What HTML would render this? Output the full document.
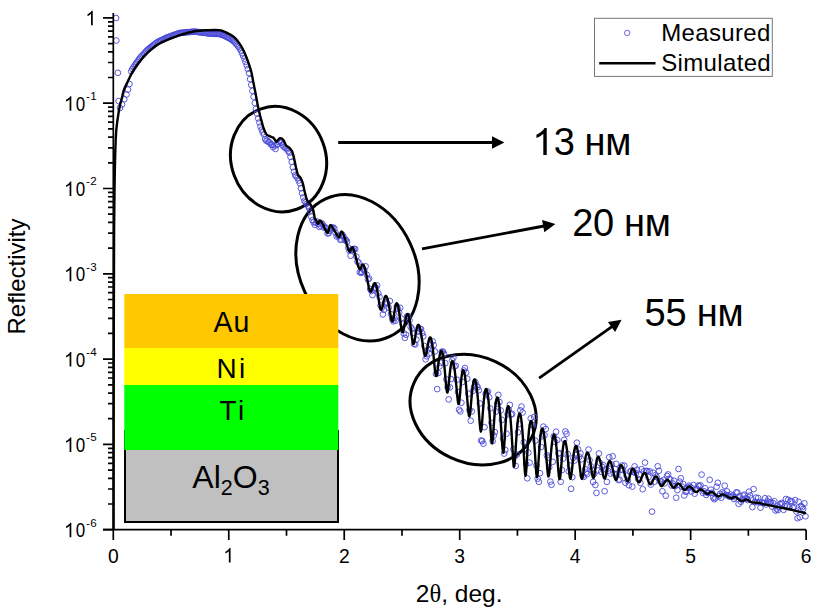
<!DOCTYPE html><html><head><meta charset="utf-8"><style>
html,body{margin:0;padding:0;background:#fff;}
svg{display:block;}
text{font-family:"Liberation Sans",sans-serif;fill:#000;}
</style></head><body>
<svg width="815" height="609" viewBox="0 0 815 609">

<g fill="none" stroke="#000" stroke-width="3">
<ellipse cx="278.55" cy="159.15" rx="47.3" ry="53.3" transform="rotate(-20 278.55 159.15)"/>
<ellipse cx="357.5" cy="267.75" rx="76.0" ry="58.0" transform="rotate(65.1 357.5 267.75)"/>
<ellipse cx="473.1" cy="409.6" rx="64.9" ry="53.0" transform="rotate(24.9 473.1 409.6)"/>
</g>
<g fill="none" stroke="#4848d8" stroke-width="0.9">
<circle cx="116.1" cy="18.0" r="2.85"/><circle cx="116.3" cy="40.5" r="2.85"/><circle cx="117.9" cy="72.8" r="2.85"/><circle cx="118.6" cy="101.0" r="2.85"/><circle cx="120.0" cy="108.0" r="2.85"/><circle cx="122.0" cy="104.5" r="2.85"/><circle cx="124.3" cy="99.2" r="2.85"/><circle cx="126.5" cy="94.5" r="2.85"/><circle cx="128.0" cy="89.5" r="2.85"/><circle cx="129.5" cy="84.0" r="2.85"/><circle cx="131.2" cy="71.3" r="2.85"/><circle cx="132.4" cy="69.0" r="2.85"/><circle cx="133.5" cy="67.1" r="2.85"/><circle cx="134.7" cy="65.5" r="2.85"/><circle cx="135.8" cy="63.8" r="2.85"/><circle cx="137.0" cy="62.2" r="2.85"/><circle cx="138.1" cy="60.5" r="2.85"/><circle cx="139.3" cy="58.9" r="2.85"/><circle cx="140.4" cy="57.5" r="2.85"/><circle cx="141.6" cy="56.2" r="2.85"/><circle cx="142.7" cy="55.0" r="2.85"/><circle cx="143.9" cy="53.7" r="2.85"/><circle cx="145.1" cy="52.5" r="2.85"/><circle cx="146.2" cy="51.2" r="2.85"/><circle cx="147.4" cy="49.9" r="2.85"/><circle cx="148.5" cy="49.0" r="2.85"/><circle cx="149.7" cy="48.1" r="2.85"/><circle cx="150.8" cy="47.2" r="2.85"/><circle cx="152.0" cy="46.3" r="2.85"/><circle cx="153.1" cy="45.4" r="2.85"/><circle cx="154.3" cy="44.5" r="2.85"/><circle cx="155.4" cy="43.6" r="2.85"/><circle cx="156.6" cy="42.7" r="2.85"/><circle cx="157.8" cy="41.9" r="2.85"/><circle cx="158.9" cy="41.3" r="2.85"/><circle cx="160.1" cy="40.8" r="2.85"/><circle cx="161.2" cy="40.2" r="2.85"/><circle cx="162.4" cy="39.7" r="2.85"/><circle cx="163.5" cy="39.2" r="2.85"/><circle cx="164.7" cy="38.6" r="2.85"/><circle cx="165.8" cy="38.1" r="2.85"/><circle cx="167.0" cy="37.5" r="2.85"/><circle cx="168.1" cy="37.1" r="2.85"/><circle cx="169.3" cy="36.7" r="2.85"/><circle cx="170.5" cy="36.3" r="2.85"/><circle cx="171.6" cy="35.8" r="2.85"/><circle cx="172.8" cy="35.4" r="2.85"/><circle cx="173.9" cy="35.0" r="2.85"/><circle cx="175.1" cy="34.6" r="2.85"/><circle cx="176.2" cy="34.2" r="2.85"/><circle cx="177.4" cy="33.8" r="2.85"/><circle cx="178.5" cy="33.4" r="2.85"/><circle cx="179.7" cy="33.0" r="2.85"/><circle cx="180.8" cy="32.9" r="2.85"/><circle cx="182.0" cy="32.8" r="2.85"/><circle cx="183.2" cy="32.7" r="2.85"/><circle cx="184.3" cy="32.5" r="2.85"/><circle cx="185.5" cy="32.4" r="2.85"/><circle cx="186.6" cy="32.3" r="2.85"/><circle cx="187.8" cy="32.2" r="2.85"/><circle cx="188.9" cy="32.1" r="2.85"/><circle cx="190.1" cy="32.0" r="2.85"/><circle cx="191.2" cy="31.9" r="2.85"/><circle cx="192.4" cy="31.8" r="2.85"/><circle cx="193.6" cy="31.7" r="2.85"/><circle cx="194.7" cy="31.6" r="2.85"/><circle cx="195.9" cy="31.8" r="2.85"/><circle cx="197.0" cy="31.9" r="2.85"/><circle cx="198.2" cy="32.1" r="2.85"/><circle cx="199.3" cy="32.2" r="2.85"/><circle cx="200.5" cy="32.4" r="2.85"/><circle cx="201.6" cy="32.5" r="2.85"/><circle cx="202.8" cy="32.6" r="2.85"/><circle cx="203.9" cy="32.8" r="2.85"/><circle cx="205.1" cy="32.9" r="2.85"/><circle cx="206.3" cy="33.1" r="2.85"/><circle cx="207.4" cy="33.2" r="2.85"/><circle cx="208.6" cy="33.4" r="2.85"/><circle cx="209.7" cy="33.6" r="2.85"/><circle cx="210.9" cy="33.7" r="2.85"/><circle cx="212.0" cy="33.7" r="2.85"/><circle cx="213.2" cy="33.8" r="2.85"/><circle cx="214.3" cy="33.8" r="2.85"/><circle cx="215.5" cy="33.8" r="2.85"/><circle cx="216.6" cy="33.8" r="2.85"/><circle cx="217.8" cy="33.9" r="2.85"/><circle cx="219.0" cy="33.9" r="2.85"/><circle cx="220.1" cy="34.2" r="2.85"/><circle cx="221.3" cy="34.6" r="2.85"/><circle cx="222.4" cy="34.9" r="2.85"/><circle cx="223.6" cy="35.4" r="2.85"/><circle cx="224.7" cy="35.9" r="2.85"/><circle cx="225.9" cy="36.5" r="2.85"/><circle cx="227.0" cy="37.1" r="2.85"/><circle cx="228.2" cy="37.7" r="2.85"/><circle cx="229.3" cy="38.2" r="2.85"/><circle cx="230.5" cy="39.0" r="2.85"/><circle cx="231.7" cy="39.8" r="2.85"/><circle cx="232.8" cy="40.6" r="2.85"/><circle cx="234.0" cy="41.5" r="2.85"/><circle cx="235.1" cy="42.5" r="2.85"/><circle cx="236.3" cy="44.0" r="2.85"/><circle cx="237.4" cy="45.4" r="2.85"/><circle cx="238.6" cy="46.8" r="2.85"/><circle cx="239.7" cy="48.3" r="2.85"/><circle cx="240.9" cy="50.5" r="2.85"/><circle cx="242.0" cy="53.1" r="2.85"/><circle cx="243.2" cy="55.8" r="2.85"/><circle cx="244.4" cy="58.7" r="2.85"/><circle cx="245.5" cy="61.9" r="2.85"/><circle cx="246.7" cy="65.2" r="2.85"/><circle cx="247.8" cy="69.0" r="2.85"/><circle cx="249.0" cy="73.1" r="2.85"/><circle cx="250.1" cy="79.1" r="2.85"/><circle cx="251.3" cy="85.0" r="2.85"/><circle cx="252.4" cy="90.8" r="2.85"/><circle cx="253.6" cy="96.8" r="2.85"/><circle cx="254.8" cy="103.0" r="2.85"/><circle cx="255.9" cy="109.0" r="2.85"/><circle cx="257.1" cy="113.7" r="2.85"/><circle cx="258.2" cy="118.4" r="2.85"/><circle cx="259.4" cy="122.5" r="2.85"/><circle cx="260.5" cy="126.5" r="2.85"/><circle cx="261.7" cy="129.7" r="2.85"/><circle cx="262.8" cy="132.4" r="2.85"/><circle cx="264.0" cy="134.5" r="2.85"/><circle cx="265.1" cy="139.1" r="2.85"/><circle cx="266.3" cy="140.8" r="2.85"/><circle cx="267.5" cy="140.6" r="2.85"/><circle cx="268.6" cy="142.1" r="2.85"/><circle cx="269.8" cy="142.5" r="2.85"/><circle cx="270.9" cy="144.4" r="2.85"/><circle cx="272.1" cy="144.8" r="2.85"/><circle cx="273.2" cy="147.2" r="2.85"/><circle cx="274.4" cy="145.4" r="2.85"/><circle cx="275.5" cy="149.0" r="2.85"/><circle cx="276.7" cy="145.1" r="2.85"/><circle cx="277.8" cy="144.0" r="2.85"/><circle cx="279.0" cy="142.0" r="2.85"/><circle cx="280.2" cy="140.9" r="2.85"/><circle cx="281.3" cy="142.7" r="2.85"/><circle cx="282.5" cy="144.9" r="2.85"/><circle cx="283.6" cy="146.7" r="2.85"/><circle cx="284.8" cy="147.5" r="2.85"/><circle cx="285.9" cy="148.2" r="2.85"/><circle cx="287.1" cy="149.3" r="2.85"/><circle cx="288.2" cy="151.0" r="2.85"/><circle cx="289.4" cy="152.8" r="2.85"/><circle cx="290.5" cy="156.9" r="2.85"/><circle cx="291.7" cy="161.8" r="2.85"/><circle cx="292.9" cy="167.2" r="2.85"/><circle cx="294.0" cy="171.7" r="2.85"/><circle cx="295.2" cy="175.1" r="2.85"/><circle cx="296.3" cy="176.5" r="2.85"/><circle cx="297.5" cy="177.9" r="2.85"/><circle cx="298.6" cy="180.5" r="2.85"/><circle cx="299.8" cy="183.3" r="2.85"/><circle cx="300.9" cy="188.3" r="2.85"/><circle cx="302.1" cy="193.2" r="2.85"/><circle cx="303.2" cy="197.4" r="2.85"/><circle cx="304.4" cy="200.8" r="2.85"/><circle cx="305.6" cy="202.3" r="2.85"/><circle cx="306.7" cy="203.8" r="2.85"/><circle cx="307.9" cy="205.6" r="2.85"/><circle cx="309.0" cy="208.0" r="2.85"/><circle cx="310.2" cy="210.8" r="2.85"/><circle cx="311.3" cy="216.7" r="2.85"/><circle cx="312.5" cy="220.0" r="2.85"/><circle cx="313.6" cy="222.2" r="2.85"/><circle cx="314.8" cy="224.7" r="2.85"/><circle cx="315.9" cy="222.8" r="2.85"/><circle cx="317.1" cy="221.5" r="2.85"/><circle cx="318.3" cy="223.9" r="2.85"/><circle cx="319.4" cy="226.9" r="2.85"/><circle cx="320.6" cy="225.8" r="2.85"/><circle cx="321.7" cy="223.4" r="2.85"/><circle cx="322.9" cy="224.5" r="2.85"/><circle cx="324.0" cy="227.7" r="2.85"/><circle cx="325.2" cy="227.2" r="2.85"/><circle cx="326.3" cy="228.2" r="2.85"/><circle cx="327.5" cy="233.4" r="2.85"/><circle cx="328.7" cy="233.2" r="2.85"/><circle cx="329.8" cy="230.6" r="2.85"/><circle cx="331.0" cy="228.5" r="2.85"/><circle cx="332.1" cy="227.7" r="2.85"/><circle cx="333.3" cy="227.5" r="2.85"/><circle cx="334.4" cy="228.5" r="2.85"/><circle cx="335.6" cy="232.8" r="2.85"/><circle cx="336.7" cy="236.5" r="2.85"/><circle cx="337.9" cy="235.6" r="2.85"/><circle cx="339.0" cy="236.2" r="2.85"/><circle cx="340.2" cy="239.7" r="2.85"/><circle cx="341.4" cy="239.6" r="2.85"/><circle cx="342.5" cy="234.6" r="2.85"/><circle cx="343.7" cy="236.9" r="2.85"/><circle cx="344.8" cy="240.3" r="2.85"/><circle cx="346.0" cy="239.8" r="2.85"/><circle cx="347.1" cy="241.6" r="2.85"/><circle cx="348.3" cy="247.6" r="2.85"/><circle cx="349.4" cy="250.6" r="2.85"/><circle cx="350.6" cy="255.8" r="2.85"/><circle cx="351.7" cy="250.2" r="2.85"/><circle cx="352.9" cy="249.5" r="2.85"/><circle cx="354.1" cy="248.8" r="2.85"/><circle cx="355.2" cy="249.1" r="2.85"/><circle cx="356.4" cy="256.6" r="2.85"/><circle cx="357.5" cy="261.7" r="2.85"/><circle cx="358.7" cy="262.5" r="2.85"/><circle cx="359.8" cy="272.2" r="2.85"/><circle cx="361.0" cy="272.9" r="2.85"/><circle cx="362.1" cy="272.1" r="2.85"/><circle cx="363.3" cy="269.6" r="2.85"/><circle cx="364.4" cy="270.6" r="2.85"/><circle cx="365.6" cy="266.3" r="2.85"/><circle cx="366.8" cy="274.8" r="2.85"/><circle cx="367.9" cy="279.4" r="2.85"/><circle cx="369.1" cy="278.5" r="2.85"/><circle cx="370.2" cy="289.0" r="2.85"/><circle cx="371.4" cy="291.0" r="2.85"/><circle cx="372.5" cy="295.1" r="2.85"/><circle cx="373.7" cy="289.4" r="2.85"/><circle cx="374.8" cy="287.8" r="2.85"/><circle cx="376.0" cy="287.7" r="2.85"/><circle cx="377.1" cy="285.4" r="2.85"/><circle cx="378.3" cy="293.2" r="2.85"/><circle cx="379.5" cy="296.7" r="2.85"/><circle cx="380.6" cy="305.5" r="2.85"/><circle cx="381.8" cy="307.7" r="2.85"/><circle cx="382.9" cy="314.4" r="2.85"/><circle cx="384.1" cy="309.8" r="2.85"/><circle cx="385.2" cy="302.8" r="2.85"/><circle cx="386.4" cy="302.4" r="2.85"/><circle cx="387.5" cy="303.9" r="2.85"/><circle cx="388.7" cy="307.7" r="2.85"/><circle cx="389.9" cy="301.0" r="2.85"/><circle cx="391.0" cy="314.2" r="2.85"/><circle cx="392.2" cy="318.9" r="2.85"/><circle cx="393.3" cy="321.3" r="2.85"/><circle cx="394.5" cy="318.3" r="2.85"/><circle cx="395.6" cy="320.7" r="2.85"/><circle cx="396.8" cy="306.4" r="2.85"/><circle cx="397.9" cy="308.9" r="2.85"/><circle cx="399.1" cy="312.6" r="2.85"/><circle cx="400.2" cy="307.8" r="2.85"/><circle cx="401.4" cy="318.6" r="2.85"/><circle cx="402.6" cy="323.6" r="2.85"/><circle cx="403.7" cy="333.4" r="2.85"/><circle cx="404.9" cy="337.8" r="2.85"/><circle cx="406.0" cy="334.7" r="2.85"/><circle cx="407.2" cy="316.1" r="2.85"/><circle cx="408.3" cy="316.2" r="2.85"/><circle cx="409.5" cy="320.3" r="2.85"/><circle cx="410.6" cy="326.8" r="2.85"/><circle cx="411.8" cy="328.7" r="2.85"/><circle cx="412.9" cy="333.1" r="2.85"/><circle cx="414.1" cy="343.8" r="2.85"/><circle cx="415.3" cy="344.5" r="2.85"/><circle cx="416.4" cy="339.7" r="2.85"/><circle cx="417.6" cy="331.7" r="2.85"/><circle cx="418.7" cy="330.7" r="2.85"/><circle cx="419.9" cy="328.8" r="2.85"/><circle cx="421.0" cy="329.1" r="2.85"/><circle cx="422.2" cy="333.2" r="2.85"/><circle cx="423.3" cy="336.3" r="2.85"/><circle cx="424.5" cy="346.1" r="2.85"/><circle cx="425.6" cy="359.3" r="2.85"/><circle cx="426.8" cy="356.3" r="2.85"/><circle cx="428.0" cy="349.6" r="2.85"/><circle cx="429.1" cy="353.7" r="2.85"/><circle cx="430.3" cy="344.6" r="2.85"/><circle cx="431.4" cy="348.4" r="2.85"/><circle cx="432.6" cy="341.3" r="2.85"/><circle cx="433.7" cy="345.1" r="2.85"/><circle cx="434.9" cy="351.4" r="2.85"/><circle cx="436.0" cy="373.9" r="2.85"/><circle cx="437.2" cy="389.1" r="2.85"/><circle cx="438.3" cy="373.0" r="2.85"/><circle cx="439.5" cy="366.4" r="2.85"/><circle cx="440.7" cy="362.8" r="2.85"/><circle cx="441.8" cy="351.7" r="2.85"/><circle cx="443.0" cy="351.6" r="2.85"/><circle cx="444.1" cy="353.9" r="2.85"/><circle cx="445.3" cy="363.2" r="2.85"/><circle cx="446.4" cy="379.4" r="2.85"/><circle cx="447.6" cy="387.2" r="2.85"/><circle cx="448.7" cy="399.4" r="2.85"/><circle cx="449.9" cy="387.3" r="2.85"/><circle cx="451.0" cy="379.1" r="2.85"/><circle cx="452.2" cy="360.3" r="2.85"/><circle cx="453.4" cy="357.8" r="2.85"/><circle cx="454.5" cy="366.5" r="2.85"/><circle cx="455.7" cy="365.8" r="2.85"/><circle cx="456.8" cy="379.7" r="2.85"/><circle cx="458.0" cy="392.1" r="2.85"/><circle cx="459.1" cy="409.7" r="2.85"/><circle cx="460.3" cy="411.4" r="2.85"/><circle cx="461.4" cy="402.7" r="2.85"/><circle cx="462.6" cy="382.0" r="2.85"/><circle cx="463.8" cy="370.5" r="2.85"/><circle cx="464.9" cy="368.0" r="2.85"/><circle cx="466.1" cy="372.6" r="2.85"/><circle cx="467.2" cy="378.7" r="2.85"/><circle cx="468.4" cy="393.7" r="2.85"/><circle cx="469.5" cy="410.0" r="2.85"/><circle cx="470.7" cy="420.7" r="2.85"/><circle cx="471.8" cy="411.4" r="2.85"/><circle cx="473.0" cy="390.9" r="2.85"/><circle cx="474.1" cy="387.2" r="2.85"/><circle cx="475.3" cy="382.0" r="2.85"/><circle cx="476.5" cy="385.5" r="2.85"/><circle cx="477.6" cy="387.1" r="2.85"/><circle cx="478.8" cy="390.3" r="2.85"/><circle cx="479.9" cy="403.5" r="2.85"/><circle cx="481.1" cy="440.5" r="2.85"/><circle cx="482.2" cy="441.0" r="2.85"/><circle cx="483.4" cy="443.7" r="2.85"/><circle cx="484.5" cy="427.2" r="2.85"/><circle cx="485.7" cy="394.0" r="2.85"/><circle cx="486.8" cy="392.3" r="2.85"/><circle cx="488.0" cy="391.6" r="2.85"/><circle cx="489.2" cy="397.3" r="2.85"/><circle cx="490.3" cy="408.4" r="2.85"/><circle cx="491.5" cy="422.9" r="2.85"/><circle cx="492.6" cy="441.1" r="2.85"/><circle cx="493.8" cy="435.5" r="2.85"/><circle cx="494.9" cy="432.1" r="2.85"/><circle cx="496.1" cy="411.6" r="2.85"/><circle cx="497.2" cy="403.8" r="2.85"/><circle cx="498.4" cy="394.9" r="2.85"/><circle cx="499.5" cy="402.0" r="2.85"/><circle cx="500.7" cy="410.5" r="2.85"/><circle cx="501.9" cy="419.8" r="2.85"/><circle cx="503.0" cy="438.6" r="2.85"/><circle cx="504.2" cy="453.6" r="2.85"/><circle cx="505.3" cy="450.0" r="2.85"/><circle cx="506.5" cy="433.7" r="2.85"/><circle cx="507.6" cy="414.3" r="2.85"/><circle cx="508.8" cy="409.9" r="2.85"/><circle cx="509.9" cy="404.9" r="2.85"/><circle cx="511.1" cy="414.5" r="2.85"/><circle cx="512.2" cy="414.0" r="2.85"/><circle cx="513.4" cy="449.3" r="2.85"/><circle cx="514.6" cy="456.4" r="2.85"/><circle cx="515.7" cy="465.9" r="2.85"/><circle cx="516.9" cy="454.6" r="2.85"/><circle cx="518.0" cy="432.3" r="2.85"/><circle cx="519.2" cy="424.1" r="2.85"/><circle cx="520.3" cy="410.3" r="2.85"/><circle cx="521.5" cy="406.5" r="2.85"/><circle cx="522.6" cy="412.5" r="2.85"/><circle cx="523.8" cy="442.4" r="2.85"/><circle cx="525.0" cy="448.6" r="2.85"/><circle cx="526.1" cy="464.1" r="2.85"/><circle cx="527.3" cy="478.3" r="2.85"/><circle cx="528.4" cy="452.7" r="2.85"/><circle cx="529.6" cy="462.6" r="2.85"/><circle cx="530.7" cy="418.4" r="2.85"/><circle cx="531.9" cy="424.9" r="2.85"/><circle cx="533.0" cy="425.1" r="2.85"/><circle cx="534.2" cy="417.0" r="2.85"/><circle cx="535.3" cy="440.6" r="2.85"/><circle cx="536.5" cy="465.5" r="2.85"/><circle cx="537.7" cy="478.7" r="2.85"/><circle cx="538.8" cy="481.8" r="2.85"/><circle cx="540.0" cy="473.2" r="2.85"/><circle cx="541.1" cy="447.0" r="2.85"/><circle cx="542.3" cy="436.2" r="2.85"/><circle cx="543.4" cy="426.6" r="2.85"/><circle cx="544.6" cy="435.2" r="2.85"/><circle cx="545.7" cy="429.0" r="2.85"/><circle cx="546.9" cy="455.3" r="2.85"/><circle cx="548.0" cy="457.6" r="2.85"/><circle cx="549.2" cy="467.3" r="2.85"/><circle cx="550.4" cy="481.6" r="2.85"/><circle cx="551.5" cy="484.8" r="2.85"/><circle cx="552.7" cy="461.8" r="2.85"/><circle cx="553.8" cy="436.3" r="2.85"/><circle cx="555.0" cy="441.9" r="2.85"/><circle cx="556.1" cy="431.7" r="2.85"/><circle cx="557.3" cy="440.0" r="2.85"/><circle cx="558.4" cy="453.6" r="2.85"/><circle cx="559.6" cy="453.1" r="2.85"/><circle cx="560.7" cy="481.8" r="2.85"/><circle cx="561.9" cy="470.1" r="2.85"/><circle cx="563.1" cy="458.6" r="2.85"/><circle cx="564.2" cy="439.8" r="2.85"/><circle cx="565.4" cy="431.4" r="2.85"/><circle cx="566.5" cy="433.8" r="2.85"/><circle cx="567.7" cy="453.9" r="2.85"/><circle cx="568.8" cy="471.3" r="2.85"/><circle cx="570.0" cy="465.5" r="2.85"/><circle cx="571.1" cy="488.8" r="2.85"/><circle cx="572.3" cy="477.1" r="2.85"/><circle cx="573.4" cy="457.9" r="2.85"/><circle cx="574.6" cy="460.5" r="2.85"/><circle cx="575.8" cy="455.1" r="2.85"/><circle cx="576.9" cy="442.7" r="2.85"/><circle cx="578.1" cy="449.4" r="2.85"/><circle cx="579.2" cy="456.8" r="2.85"/><circle cx="580.4" cy="453.4" r="2.85"/><circle cx="581.5" cy="459.3" r="2.85"/><circle cx="582.7" cy="475.7" r="2.85"/><circle cx="583.8" cy="476.9" r="2.85"/><circle cx="585.0" cy="469.4" r="2.85"/><circle cx="586.1" cy="472.6" r="2.85"/><circle cx="587.3" cy="474.1" r="2.85"/><circle cx="588.5" cy="449.6" r="2.85"/><circle cx="589.6" cy="460.3" r="2.85"/><circle cx="590.8" cy="466.3" r="2.85"/><circle cx="591.9" cy="469.8" r="2.85"/><circle cx="593.1" cy="481.9" r="2.85"/><circle cx="594.2" cy="473.8" r="2.85"/><circle cx="595.4" cy="485.0" r="2.85"/><circle cx="596.5" cy="492.9" r="2.85"/><circle cx="597.7" cy="470.4" r="2.85"/><circle cx="598.9" cy="453.5" r="2.85"/><circle cx="600.0" cy="462.9" r="2.85"/><circle cx="601.2" cy="471.9" r="2.85"/><circle cx="602.3" cy="467.0" r="2.85"/><circle cx="603.5" cy="465.2" r="2.85"/><circle cx="604.6" cy="491.2" r="2.85"/><circle cx="605.8" cy="469.3" r="2.85"/><circle cx="606.9" cy="481.9" r="2.85"/><circle cx="608.1" cy="470.9" r="2.85"/><circle cx="609.2" cy="457.2" r="2.85"/><circle cx="610.4" cy="473.5" r="2.85"/><circle cx="611.6" cy="464.4" r="2.85"/><circle cx="612.7" cy="456.3" r="2.85"/><circle cx="613.9" cy="473.6" r="2.85"/><circle cx="615.0" cy="468.9" r="2.85"/><circle cx="616.2" cy="463.8" r="2.85"/><circle cx="617.3" cy="474.1" r="2.85"/><circle cx="618.5" cy="480.1" r="2.85"/><circle cx="619.6" cy="479.6" r="2.85"/><circle cx="620.8" cy="469.6" r="2.85"/><circle cx="621.9" cy="465.5" r="2.85"/><circle cx="623.1" cy="470.1" r="2.85"/><circle cx="624.3" cy="465.6" r="2.85"/><circle cx="625.4" cy="482.8" r="2.85"/><circle cx="626.6" cy="475.7" r="2.85"/><circle cx="627.7" cy="480.7" r="2.85"/><circle cx="628.9" cy="485.2" r="2.85"/><circle cx="630.0" cy="471.8" r="2.85"/><circle cx="631.2" cy="470.7" r="2.85"/><circle cx="632.3" cy="486.6" r="2.85"/><circle cx="633.5" cy="472.0" r="2.85"/><circle cx="634.6" cy="466.4" r="2.85"/><circle cx="635.8" cy="473.1" r="2.85"/><circle cx="637.0" cy="469.6" r="2.85"/><circle cx="638.1" cy="478.9" r="2.85"/><circle cx="639.3" cy="474.9" r="2.85"/><circle cx="640.4" cy="482.9" r="2.85"/><circle cx="641.6" cy="469.2" r="2.85"/><circle cx="642.7" cy="489.2" r="2.85"/><circle cx="643.9" cy="471.3" r="2.85"/><circle cx="645.0" cy="462.6" r="2.85"/><circle cx="646.2" cy="470.9" r="2.85"/><circle cx="647.3" cy="471.0" r="2.85"/><circle cx="648.5" cy="477.1" r="2.85"/><circle cx="649.7" cy="471.4" r="2.85"/><circle cx="650.8" cy="484.6" r="2.85"/><circle cx="652.0" cy="511.6" r="2.85"/><circle cx="653.1" cy="472.7" r="2.85"/><circle cx="654.3" cy="481.8" r="2.85"/><circle cx="655.4" cy="475.2" r="2.85"/><circle cx="656.6" cy="477.0" r="2.85"/><circle cx="657.7" cy="466.3" r="2.85"/><circle cx="658.9" cy="470.8" r="2.85"/><circle cx="660.1" cy="481.3" r="2.85"/><circle cx="661.2" cy="481.3" r="2.85"/><circle cx="662.4" cy="491.2" r="2.85"/><circle cx="663.5" cy="479.9" r="2.85"/><circle cx="664.7" cy="483.4" r="2.85"/><circle cx="665.8" cy="495.7" r="2.85"/><circle cx="667.0" cy="475.9" r="2.85"/><circle cx="668.1" cy="474.4" r="2.85"/><circle cx="669.3" cy="478.8" r="2.85"/><circle cx="670.4" cy="479.6" r="2.85"/><circle cx="671.6" cy="485.5" r="2.85"/><circle cx="672.8" cy="483.6" r="2.85"/><circle cx="673.9" cy="480.7" r="2.85"/><circle cx="675.1" cy="486.1" r="2.85"/><circle cx="676.2" cy="497.7" r="2.85"/><circle cx="677.4" cy="490.1" r="2.85"/><circle cx="678.5" cy="469.0" r="2.85"/><circle cx="679.7" cy="481.6" r="2.85"/><circle cx="680.8" cy="478.3" r="2.85"/><circle cx="682.0" cy="486.7" r="2.85"/><circle cx="683.1" cy="484.0" r="2.85"/><circle cx="684.3" cy="495.5" r="2.85"/><circle cx="685.5" cy="491.6" r="2.85"/><circle cx="686.6" cy="491.6" r="2.85"/><circle cx="687.8" cy="487.7" r="2.85"/><circle cx="688.9" cy="485.6" r="2.85"/><circle cx="690.1" cy="486.8" r="2.85"/><circle cx="691.2" cy="491.5" r="2.85"/><circle cx="692.4" cy="488.4" r="2.85"/><circle cx="693.5" cy="485.0" r="2.85"/><circle cx="694.7" cy="493.7" r="2.85"/><circle cx="695.8" cy="489.5" r="2.85"/><circle cx="697.0" cy="488.9" r="2.85"/><circle cx="698.2" cy="485.6" r="2.85"/><circle cx="699.3" cy="486.3" r="2.85"/><circle cx="700.5" cy="485.2" r="2.85"/><circle cx="701.6" cy="474.6" r="2.85"/><circle cx="702.8" cy="492.8" r="2.85"/><circle cx="703.9" cy="491.2" r="2.85"/><circle cx="705.1" cy="488.3" r="2.85"/><circle cx="706.2" cy="494.9" r="2.85"/><circle cx="707.4" cy="492.8" r="2.85"/><circle cx="708.5" cy="493.0" r="2.85"/><circle cx="709.7" cy="479.8" r="2.85"/><circle cx="710.9" cy="489.7" r="2.85"/><circle cx="712.0" cy="492.7" r="2.85"/><circle cx="713.2" cy="497.7" r="2.85"/><circle cx="714.3" cy="499.2" r="2.85"/><circle cx="715.5" cy="497.9" r="2.85"/><circle cx="716.6" cy="486.7" r="2.85"/><circle cx="717.8" cy="482.8" r="2.85"/><circle cx="718.9" cy="496.1" r="2.85"/><circle cx="720.1" cy="493.8" r="2.85"/><circle cx="721.2" cy="497.8" r="2.85"/><circle cx="722.4" cy="492.2" r="2.85"/><circle cx="723.6" cy="493.5" r="2.85"/><circle cx="724.7" cy="485.7" r="2.85"/><circle cx="725.9" cy="495.0" r="2.85"/><circle cx="727.0" cy="491.4" r="2.85"/><circle cx="728.2" cy="495.6" r="2.85"/><circle cx="729.3" cy="496.6" r="2.85"/><circle cx="730.5" cy="494.4" r="2.85"/><circle cx="731.6" cy="496.8" r="2.85"/><circle cx="732.8" cy="495.6" r="2.85"/><circle cx="734.0" cy="499.0" r="2.85"/><circle cx="735.1" cy="497.3" r="2.85"/><circle cx="736.3" cy="492.4" r="2.85"/><circle cx="737.4" cy="492.6" r="2.85"/><circle cx="738.6" cy="503.9" r="2.85"/><circle cx="739.7" cy="496.0" r="2.85"/><circle cx="740.9" cy="501.7" r="2.85"/><circle cx="742.0" cy="499.5" r="2.85"/><circle cx="743.2" cy="495.5" r="2.85"/><circle cx="744.3" cy="494.7" r="2.85"/><circle cx="745.5" cy="498.4" r="2.85"/><circle cx="746.7" cy="498.6" r="2.85"/><circle cx="747.8" cy="500.1" r="2.85"/><circle cx="749.0" cy="491.7" r="2.85"/><circle cx="750.1" cy="495.4" r="2.85"/><circle cx="751.3" cy="498.4" r="2.85"/><circle cx="752.4" cy="507.1" r="2.85"/><circle cx="753.6" cy="489.1" r="2.85"/><circle cx="754.7" cy="502.0" r="2.85"/><circle cx="755.9" cy="497.6" r="2.85"/><circle cx="757.0" cy="502.2" r="2.85"/><circle cx="758.2" cy="498.0" r="2.85"/><circle cx="759.4" cy="502.0" r="2.85"/><circle cx="760.5" cy="507.7" r="2.85"/><circle cx="761.7" cy="502.4" r="2.85"/><circle cx="762.8" cy="503.1" r="2.85"/><circle cx="764.0" cy="503.1" r="2.85"/><circle cx="765.1" cy="498.2" r="2.85"/><circle cx="766.3" cy="504.5" r="2.85"/><circle cx="767.4" cy="501.2" r="2.85"/><circle cx="768.6" cy="498.7" r="2.85"/><circle cx="769.7" cy="502.5" r="2.85"/><circle cx="770.9" cy="501.9" r="2.85"/><circle cx="772.1" cy="506.6" r="2.85"/><circle cx="773.2" cy="503.2" r="2.85"/><circle cx="774.4" cy="501.2" r="2.85"/><circle cx="775.5" cy="510.5" r="2.85"/><circle cx="776.7" cy="508.6" r="2.85"/><circle cx="777.8" cy="510.1" r="2.85"/><circle cx="779.0" cy="507.3" r="2.85"/><circle cx="780.1" cy="504.2" r="2.85"/><circle cx="781.3" cy="503.0" r="2.85"/><circle cx="782.4" cy="503.9" r="2.85"/><circle cx="783.6" cy="509.8" r="2.85"/><circle cx="784.8" cy="506.1" r="2.85"/><circle cx="785.9" cy="499.0" r="2.85"/><circle cx="787.1" cy="505.9" r="2.85"/><circle cx="788.2" cy="499.8" r="2.85"/><circle cx="789.4" cy="507.3" r="2.85"/><circle cx="790.5" cy="501.2" r="2.85"/><circle cx="791.7" cy="501.2" r="2.85"/><circle cx="792.8" cy="507.8" r="2.85"/><circle cx="794.0" cy="507.1" r="2.85"/><circle cx="795.2" cy="500.1" r="2.85"/><circle cx="796.3" cy="511.4" r="2.85"/><circle cx="797.5" cy="518.2" r="2.85"/><circle cx="798.6" cy="501.8" r="2.85"/><circle cx="799.8" cy="517.2" r="2.85"/><circle cx="800.9" cy="506.0" r="2.85"/><circle cx="802.1" cy="507.2" r="2.85"/><circle cx="803.2" cy="508.9" r="2.85"/><circle cx="804.4" cy="503.4" r="2.85"/><circle cx="805.5" cy="516.3" r="2.85"/>
</g>
<path d="M113.60,530.00C113.63,496.67 113.72,380.00 113.80,330.00C113.88,280.00 113.97,254.17 114.10,230.00C114.23,205.83 114.42,197.50 114.60,185.00C114.78,172.50 114.92,164.13 115.20,155.00C115.48,145.87 115.62,137.95 116.30,130.20C116.98,122.45 118.38,113.78 119.30,108.50C120.22,103.22 121.03,101.58 121.80,98.50C122.57,95.42 122.88,92.88 123.90,90.00C124.92,87.12 126.42,84.30 127.90,81.20C129.38,78.10 130.83,74.68 132.80,71.40C134.77,68.12 137.23,64.62 139.70,61.50C142.17,58.38 144.65,55.48 147.60,52.70C150.55,49.92 154.12,46.93 157.40,44.80C160.68,42.67 163.68,41.47 167.30,39.90C170.92,38.33 174.57,36.83 179.10,35.40C183.63,33.97 189.68,32.17 194.50,31.30C199.32,30.43 203.92,30.40 208.00,30.20C212.08,30.00 216.52,29.95 219.00,30.10C221.48,30.25 221.10,30.40 222.90,31.10C224.70,31.80 227.83,33.20 229.80,34.30C231.77,35.40 233.07,36.15 234.70,37.70C236.33,39.25 238.13,41.47 239.60,43.60C241.07,45.73 242.35,48.20 243.50,50.50C244.65,52.80 245.58,55.10 246.50,57.40C247.42,59.70 248.18,61.83 249.00,64.30C249.82,66.77 250.72,69.42 251.40,72.20C252.08,74.98 252.38,77.35 253.10,81.00C253.82,84.65 254.82,89.50 255.70,94.10C256.58,98.70 257.52,104.43 258.40,108.60C259.28,112.77 260.13,115.83 261.00,119.10C261.87,122.37 262.73,125.70 263.60,128.20C264.47,130.70 265.22,132.78 266.20,134.10C267.18,135.42 268.40,135.55 269.50,136.10C270.60,136.65 272.02,136.95 272.80,137.40C273.58,137.85 273.58,138.08 274.20,138.80C274.82,139.52 275.55,141.80 276.50,141.70C277.45,141.60 278.75,138.48 279.90,138.20C281.05,137.92 282.33,138.75 283.40,140.00C284.47,141.25 285.25,144.37 286.30,145.70C287.35,147.03 288.65,146.85 289.70,148.00C290.75,149.15 291.83,150.68 292.60,152.60C293.37,154.52 293.73,157.02 294.30,159.50C294.87,161.98 295.42,165.02 296.00,167.50C296.58,169.98 297.03,172.67 297.80,174.40C298.57,176.13 299.75,176.37 300.60,177.90C301.45,179.43 302.22,181.30 302.90,183.60C303.58,185.90 304.00,188.93 304.70,191.70C305.40,194.47 306.17,198.13 307.10,200.20C308.03,202.27 309.32,202.57 310.30,204.10C311.28,205.63 312.23,206.93 313.00,209.40C313.77,211.87 314.58,217.33 314.90,218.91 L315.40,219.20 L315.90,219.77 L316.40,220.77 L316.90,222.17 L317.40,223.47 L317.90,223.95 L318.40,223.28 L318.90,221.99 L319.40,220.90 L319.90,220.47 L320.40,220.60 L320.90,221.06 L321.40,221.73 L321.90,222.55 L322.40,223.45 L322.90,224.40 L323.40,225.38 L323.90,226.38 L324.40,227.41 L324.90,228.47 L325.40,229.55 L325.90,230.63 L326.40,231.65 L326.90,232.50 L327.40,233.00 L327.90,232.86 L328.40,231.60 L328.90,229.38 L329.40,227.07 L329.90,225.54 L330.40,225.04 L330.90,225.23 L331.40,225.74 L331.90,226.43 L332.40,227.23 L332.90,228.06 L333.40,228.90 L333.90,229.74 L334.40,230.57 L334.90,231.40 L335.40,232.23 L335.90,233.08 L336.40,233.93 L336.90,234.78 L337.40,235.59 L337.90,236.32 L338.40,236.86 L338.90,237.09 L339.40,236.68 L339.90,235.40 L340.40,233.65 L340.90,232.19 L341.40,231.55 L341.90,231.70 L342.40,232.31 L342.90,233.24 L343.40,234.38 L343.90,235.67 L344.40,237.07 L344.90,238.54 L345.40,240.06 L345.90,241.63 L346.40,243.24 L346.90,244.87 L347.40,246.51 L347.90,248.09 L348.40,249.55 L348.90,250.76 L349.40,251.56 L349.90,251.70 L350.40,250.96 L350.90,249.59 L351.40,248.18 L351.90,247.32 L352.40,247.25 L352.90,247.86 L353.40,248.91 L353.90,250.27 L354.40,251.86 L354.90,253.60 L355.40,255.45 L355.90,257.37 L356.40,259.33 L356.90,261.30 L357.40,263.23 L357.90,265.07 L358.40,266.73 L358.90,268.08 L359.40,268.96 L359.90,269.22 L360.40,268.80 L360.90,267.82 L361.40,266.58 L361.90,265.42 L362.40,264.63 L362.90,264.39 L363.40,264.72 L363.90,265.56 L364.40,266.83 L364.90,268.46 L365.40,270.39 L365.90,272.58 L366.40,274.96 L366.90,277.47 L367.40,280.06 L367.90,282.66 L368.40,285.17 L368.90,287.46 L369.40,289.39 L369.90,290.80 L370.40,291.52 L370.90,291.52 L371.40,290.82 L371.90,289.58 L372.40,288.02 L372.90,286.41 L373.40,284.96 L373.90,283.86 L374.40,283.23 L374.90,283.15 L375.40,283.65 L375.90,284.72 L376.40,286.37 L376.90,288.57 L377.40,291.24 L377.90,294.30 L378.40,297.62 L378.90,300.99 L379.40,304.18 L379.90,306.89 L380.40,308.84 L380.90,309.81 L381.40,309.71 L381.90,308.65 L382.40,306.85 L382.90,304.63 L383.40,302.30 L383.90,300.13 L384.40,298.31 L384.90,296.96 L385.40,296.16 L385.90,295.95 L386.40,296.31 L386.90,297.22 L387.40,298.64 L387.90,300.50 L388.40,302.78 L388.90,305.40 L389.40,308.29 L389.90,311.35 L390.40,314.41 L390.90,317.25 L391.40,319.59 L391.90,321.10 L392.40,321.48 L392.90,320.58 L393.40,318.47 L393.90,315.53 L394.40,312.24 L394.90,309.09 L395.40,306.43 L395.90,304.51 L396.40,303.43 L396.90,303.24 L397.40,303.88 L397.90,305.31 L398.40,307.48 L398.90,310.31 L399.40,313.70 L399.90,317.47 L400.40,321.42 L400.90,325.24 L401.40,328.56 L401.90,330.99 L402.40,332.20 L402.90,332.06 L403.40,330.69 L403.90,328.43 L404.40,325.67 L404.90,322.78 L405.40,320.05 L405.90,317.69 L406.40,315.85 L406.90,314.62 L407.40,314.06 L407.90,314.20 L408.40,315.07 L408.90,316.67 L409.40,318.98 L409.90,321.94 L410.40,325.48 L410.90,329.42 L411.40,333.53 L411.90,337.47 L412.40,340.81 L412.90,343.12 L413.40,344.07 L413.90,343.57 L414.40,341.76 L414.90,339.03 L415.40,335.88 L415.90,332.73 L416.40,329.90 L416.90,327.61 L417.40,325.97 L417.90,325.04 L418.40,324.81 L418.90,325.26 L419.40,326.32 L419.90,327.93 L420.40,330.03 L420.90,332.56 L421.40,335.46 L421.90,338.65 L422.40,342.03 L422.90,345.48 L423.40,348.80 L423.90,351.78 L424.40,354.12 L424.90,355.55 L425.40,355.84 L425.90,354.97 L426.40,353.08 L426.90,350.47 L427.40,347.51 L427.90,344.55 L428.40,341.88 L428.90,339.71 L429.40,338.19 L429.90,337.40 L430.40,337.40 L430.90,338.21 L431.40,339.85 L431.90,342.32 L432.40,345.62 L432.90,349.69 L433.40,354.42 L433.90,359.60 L434.40,364.88 L434.90,369.76 L435.40,373.60 L435.90,375.80 L436.40,376.03 L436.90,374.44 L437.40,371.50 L437.90,367.81 L438.40,363.90 L438.90,360.17 L439.40,356.89 L439.90,354.22 L440.40,352.24 L440.90,351.04 L441.40,350.64 L441.90,351.08 L442.40,352.40 L442.90,354.62 L443.40,357.74 L443.90,361.73 L444.40,366.52 L444.90,371.98 L445.40,377.82 L445.90,383.56 L446.40,388.46 L446.90,391.68 L447.40,392.54 L447.90,390.89 L448.40,387.24 L448.90,382.45 L449.40,377.34 L449.90,372.55 L450.40,368.42 L450.90,365.15 L451.40,362.83 L451.90,361.48 L452.40,361.10 L452.90,361.63 L453.40,363.02 L453.90,365.21 L454.40,368.15 L454.90,371.82 L455.40,376.16 L455.90,381.10 L456.40,386.50 L456.90,392.09 L457.40,397.40 L457.90,401.69 L458.40,404.04 L458.90,403.71 L459.40,400.56 L459.90,395.34 L460.40,389.25 L460.90,383.32 L461.40,378.23 L461.90,374.31 L462.40,371.68 L462.90,370.34 L463.40,370.20 L463.90,371.12 L464.40,373.01 L464.90,375.82 L465.40,379.47 L465.90,383.93 L466.40,389.11 L466.90,394.88 L467.40,400.98 L467.90,406.97 L468.40,412.16 L468.90,415.62 L469.40,416.51 L469.90,414.56 L470.40,410.35 L470.90,404.87 L471.40,399.06 L471.90,393.58 L472.40,388.82 L472.90,384.96 L473.40,382.09 L473.90,380.23 L474.40,379.38 L474.90,379.50 L475.40,380.57 L475.90,382.54 L476.40,385.41 L476.90,389.16 L477.40,393.78 L477.90,399.23 L478.40,405.44 L478.90,412.20 L479.40,419.11 L479.90,425.39 L480.40,429.94 L480.90,431.55 L481.40,429.68 L481.90,424.93 L482.40,418.55 L482.90,411.78 L483.40,405.42 L483.90,399.92 L484.40,395.49 L484.90,392.19 L485.40,390.04 L485.90,389.03 L486.40,389.10 L486.90,390.24 L487.40,392.42 L487.90,395.64 L488.40,399.90 L488.90,405.21 L489.40,411.52 L489.90,418.69 L490.40,426.40 L490.90,433.94 L491.40,440.10 L491.90,443.32 L492.40,442.55 L492.90,438.10 L493.40,431.43 L493.90,424.07 L494.40,417.06 L494.90,410.91 L495.40,405.87 L495.90,402.01 L496.40,399.34 L496.90,397.83 L497.40,397.44 L497.90,398.15 L498.40,399.92 L498.90,402.72 L499.40,406.56 L499.90,411.43 L500.40,417.32 L500.90,424.19 L501.40,431.82 L501.90,439.75 L502.40,446.97 L502.90,451.88 L503.40,452.83 L503.90,449.32 L504.40,442.56 L504.90,434.48 L505.40,426.58 L505.90,419.69 L506.40,414.15 L506.90,410.05 L507.40,407.39 L507.90,406.11 L508.40,406.10 L508.90,407.28 L509.40,409.61 L509.90,413.09 L510.40,417.71 L510.90,423.49 L511.40,430.40 L511.90,438.35 L512.40,447.03 L512.90,455.71 L513.40,462.97 L513.90,466.80 L514.40,465.80 L514.90,460.55 L515.40,452.96 L515.90,444.79 L516.40,437.09 L516.90,430.33 L517.40,424.70 L517.90,420.22 L518.40,416.90 L518.90,414.69 L519.40,413.59 L519.90,413.59 L520.40,414.69 L520.90,416.92 L521.40,420.32 L521.90,424.92 L522.40,430.77 L522.90,437.88 L523.40,446.17 L523.90,455.31 L524.40,464.50 L524.90,472.10 L525.40,475.87 L525.90,474.39 L526.40,468.48 L526.90,460.30 L527.40,451.72 L527.90,443.79 L528.40,436.96 L528.90,431.36 L529.40,427.00 L529.90,423.85 L530.40,421.86 L530.90,421.00 L531.40,421.22 L531.90,422.51 L532.40,424.86 L532.90,428.25 L533.40,432.71 L533.90,438.23 L534.40,444.78 L534.90,452.23 L535.40,460.25 L535.90,468.08 L536.40,474.38 L536.90,477.41 L537.40,476.06 L537.90,470.78 L538.40,463.28 L538.90,455.26 L539.40,447.81 L539.90,441.44 L540.40,436.35 L540.90,432.56 L541.40,430.05 L541.90,428.72 L542.40,428.50 L542.90,429.29 L543.40,431.01 L543.90,433.60 L544.40,437.03 L544.90,441.25 L545.40,446.22 L545.90,451.85 L546.40,457.95 L546.90,464.18 L547.40,469.95 L547.90,474.37 L548.40,476.44 L548.90,475.52 L549.40,471.86 L549.90,466.38 L550.40,460.14 L550.90,453.97 L551.40,448.37 L551.90,443.62 L552.40,439.85 L552.90,437.12 L553.40,435.42 L553.90,434.77 L554.40,435.15 L554.90,436.56 L555.40,438.98 L555.90,442.43 L556.40,446.87 L556.90,452.23 L557.40,458.36 L557.90,464.90 L558.40,471.22 L558.90,476.35 L559.40,479.14 L559.90,478.83 L560.40,475.56 L560.90,470.31 L561.40,464.22 L561.90,458.21 L562.40,452.83 L562.90,448.35 L563.40,444.92 L563.90,442.55 L564.40,441.26 L564.90,441.00 L565.40,441.75 L565.90,443.47 L566.40,446.13 L566.90,449.69 L567.40,454.05 L567.90,459.06 L568.40,464.45 L568.90,469.79 L569.40,474.44 L569.90,477.65 L570.40,478.80 L570.90,477.68 L571.40,474.63 L571.90,470.36 L572.40,465.58 L572.90,460.85 L573.40,456.54 L573.90,452.86 L574.40,449.92 L574.90,447.78 L575.40,446.46 L575.90,445.97 L576.40,446.30 L576.90,447.43 L577.40,449.35 L577.90,451.99 L578.40,455.30 L578.90,459.17 L579.40,463.44 L579.90,467.86 L580.40,472.06 L580.90,475.59 L581.40,477.97 L581.90,478.80 L582.40,477.98 L582.90,475.71 L583.40,472.44 L583.90,468.68 L584.40,464.86 L584.90,461.30 L585.40,458.23 L585.90,455.75 L586.40,453.95 L586.90,452.86 L587.40,452.46 L587.90,452.76 L588.40,453.72 L588.90,455.28 L589.40,457.39 L589.90,459.98 L590.40,462.98 L590.90,466.24 L591.40,469.59 L591.90,472.78 L592.40,475.48 L592.90,477.33 L593.40,478.00 L593.90,477.29 L594.40,475.19 L594.90,472.04 L595.40,468.38 L595.90,464.75 L596.40,461.59 L596.90,459.15 L597.40,457.54 L597.90,456.77 L598.40,456.75 L598.90,457.37 L599.40,458.50 L599.90,460.08 L600.40,462.00 L600.90,464.21 L601.40,466.61 L601.90,469.13 L602.40,471.64 L602.90,474.03 L603.40,476.10 L603.90,477.67 L604.40,478.51 L604.90,478.45 L605.40,477.39 L605.90,475.44 L606.40,472.85 L606.90,469.99 L607.40,467.21 L607.90,464.78 L608.40,462.89 L608.90,461.64 L609.40,461.04 L609.90,461.05 L610.40,461.59 L610.90,462.60 L611.40,464.00 L611.90,465.72 L612.40,467.70 L612.90,469.85 L613.40,472.09 L613.90,474.31 L614.40,476.37 L614.90,478.12 L615.40,479.37 L615.90,479.97 L616.40,479.78 L616.90,478.76 L617.40,477.01 L617.90,474.76 L618.40,472.32 L618.90,469.98 L619.40,467.98 L619.90,466.45 L620.40,465.49 L620.90,465.09 L621.40,465.20 L621.90,465.75 L622.40,466.68 L622.90,467.91 L623.40,469.40 L623.90,471.07 L624.40,472.87 L624.90,474.72 L625.40,476.54 L625.90,478.23 L626.40,479.67 L626.90,480.75 L627.40,481.33 L627.90,481.32 L628.40,480.66 L628.90,479.41 L629.40,477.71 L629.90,475.75 L630.40,473.77 L630.90,471.95 L631.40,470.44 L631.90,469.35 L632.40,468.73 L632.90,468.58 L633.40,468.87 L633.90,469.57 L634.40,470.63 L634.90,471.99 L635.40,473.57 L635.90,475.29 L636.40,477.04 L636.90,478.71 L637.40,480.18 L637.90,481.34 L638.40,482.10 L638.90,482.40 L639.40,482.23 L639.90,481.63 L640.40,480.70 L640.90,479.53 L641.40,478.25 L641.90,476.95 L642.40,475.72 L642.90,474.66 L643.40,473.81 L643.90,473.24 L644.40,472.97 L644.90,473.04 L645.40,473.46 L645.90,474.22 L646.40,475.31 L646.90,476.68 L647.40,478.22 L647.90,479.82 L648.40,481.34 L648.90,482.65 L649.40,483.62 L649.90,484.18 L650.40,484.30 L650.90,484.03 L651.40,483.43 L651.90,482.59 L652.40,481.61 L652.90,480.55 L653.40,479.51 L653.90,478.54 L654.40,477.70 L654.90,477.05 L655.40,476.63 L655.90,476.46 L656.40,476.59 L656.90,477.02 L657.40,477.76 L657.90,478.78 L658.40,480.03 L658.90,481.39 L659.40,482.76 L659.90,483.99 L660.40,484.99 L660.90,485.66 L661.40,485.98 L661.90,485.96 L662.40,485.64 L662.90,485.10 L663.40,484.40 L663.90,483.60 L664.40,482.79 L664.90,482.01 L665.40,481.30 L665.90,480.71 L666.40,480.28 L666.90,480.01 L667.40,479.94 L667.90,480.08 L668.40,480.42 L668.90,480.96 L669.40,481.65 L669.90,482.47 L670.40,483.38 L670.90,484.32 L671.40,485.25 L671.90,486.10 L672.40,486.81 L672.90,487.34 L673.40,487.65 L673.90,487.71 L674.40,487.51 L674.90,487.08 L675.40,486.47 L675.90,485.76 L676.40,485.04 L676.90,484.41 L677.40,483.92 L677.90,483.63 L678.40,483.55 L678.90,483.67 L679.40,483.98 L679.90,484.45 L680.40,485.03 L680.90,485.71 L681.40,486.44 L681.90,487.19 L682.40,487.93 L682.90,488.62 L683.40,489.21 L683.90,489.67 L684.40,489.94 L684.90,490.02 L685.40,489.86 L685.90,489.49 L686.40,488.95 L686.90,488.31 L687.40,487.67 L687.90,487.11 L688.40,486.71 L688.90,486.49 L689.40,486.46 L689.90,486.61 L690.40,486.90 L690.90,487.30 L691.40,487.78 L691.90,488.31 L692.40,488.88 L692.90,489.46 L693.40,490.03 L693.90,490.57 L694.40,491.06 L694.90,491.48 L695.40,491.79 L695.90,491.98 L696.40,492.02 L696.90,491.88 L697.40,491.58 L697.90,491.14 L698.40,490.65 L698.90,490.18 L699.40,489.79 L699.90,489.54 L700.40,489.45 L700.90,489.50 L701.40,489.68 L701.90,489.95 L702.40,490.29 L702.90,490.68 L703.40,491.10 L703.90,491.54 L704.40,491.98 L704.90,492.42 L705.40,492.83 L705.90,493.22 L706.40,493.54 L706.90,493.78 L707.40,493.92 L707.90,493.91 L708.40,493.73 L708.90,493.40 L709.40,492.96 L709.90,492.51 L710.40,492.14 L710.90,491.91 L711.40,491.86 L711.90,491.95 L712.40,492.17 L712.90,492.47 L713.40,492.84 L713.90,493.26 L714.40,493.70 L714.90,494.17 L715.40,494.63 L715.90,495.08 L716.40,495.49 L716.90,495.86 L717.40,496.15 L717.90,496.35 L718.40,496.43 L718.90,496.36 L719.40,496.13 L719.90,495.79 L720.40,495.37 L720.90,494.96 L721.40,494.63 L721.90,494.42 L722.40,494.34 L722.90,494.38 L723.40,494.51 L723.90,494.71 L724.40,494.94 L724.90,495.20 L725.40,495.48 L725.90,495.76 L726.40,496.05 L726.90,496.33 L727.40,496.62 L727.90,496.90 L728.40,497.18 L728.90,497.45 L729.40,497.71 L729.90,497.94 L730.40,498.14 L730.90,498.28 L731.40,498.34 L731.90,498.28 L732.40,498.05 L732.90,497.70 L733.40,497.33 L733.90,497.06 L734.40,496.95 L734.90,497.00 L735.40,497.15 L735.90,497.38 L736.40,497.66 L736.90,497.98 L737.40,498.32 L737.90,498.68 L738.40,499.05 L738.90,499.42 L739.40,499.77 L739.90,500.11 L740.40,500.42 L740.90,500.69 L741.40,500.90 L741.90,501.02 L742.40,501.03 L742.90,500.94 L743.40,500.75 L743.90,500.47 L744.40,500.16 L744.90,499.87 L745.40,499.63 L745.90,499.48 L746.40,499.46 L746.90,499.55 L747.40,499.75 L747.90,500.05 L748.40,500.41 L748.90,500.82 L749.40,501.24 L749.90,501.62 L750.40,501.95 L750.90,502.20 L751.40,502.36 L751.90,502.41C753.02,502.49 756.50,502.57 758.60,502.90C760.70,503.23 761.88,503.82 764.50,504.40C767.12,504.98 771.02,505.75 774.30,506.40C777.58,507.05 780.92,507.65 784.20,508.30C787.48,508.95 790.38,509.47 794.00,510.30C797.62,511.13 803.92,512.80 805.90,513.30" fill="none" stroke="#000" stroke-width="2.4" stroke-linejoin="round"/>
<g stroke="#000" stroke-width="1.7" fill="none">
<line x1="113.3" y1="13" x2="113.3" y2="530.5"/>
<line x1="103" y1="529.7" x2="806.1" y2="529.7"/>
<path d="M103,17.90H113.3M108,77.52H113.3M108,62.50H113.3M108,51.84H113.3M108,43.58H113.3M108,36.82H113.3M108,31.11H113.3M108,26.17H113.3M108,21.80H113.3M103,103.20H113.3M108,162.82H113.3M108,147.80H113.3M108,137.14H113.3M108,128.88H113.3M108,122.12H113.3M108,116.41H113.3M108,111.47H113.3M108,107.10H113.3M103,188.50H113.3M108,248.12H113.3M108,233.10H113.3M108,222.44H113.3M108,214.18H113.3M108,207.42H113.3M108,201.71H113.3M108,196.77H113.3M108,192.40H113.3M103,273.80H113.3M108,333.42H113.3M108,318.40H113.3M108,307.74H113.3M108,299.48H113.3M108,292.72H113.3M108,287.01H113.3M108,282.07H113.3M108,277.70H113.3M103,359.10H113.3M108,418.72H113.3M108,403.70H113.3M108,393.04H113.3M108,384.78H113.3M108,378.02H113.3M108,372.31H113.3M108,367.37H113.3M108,363.00H113.3M103,444.40H113.3M108,504.02H113.3M108,489.00H113.3M108,478.34H113.3M108,470.08H113.3M108,463.32H113.3M108,457.61H113.3M108,452.67H113.3M108,448.30H113.3M103,529.70H113.3M113.30,529.7V540.1M171.03,529.7V535.7M228.77,529.7V540.1M286.50,529.7V535.7M344.24,529.7V540.1M401.98,529.7V535.7M459.71,529.7V540.1M517.44,529.7V535.7M575.18,529.7V540.1M632.91,529.7V535.7M690.65,529.7V540.1M748.38,529.7V535.7M806.12,529.7V540.1"/>
</g>
<g transform="translate(113.30 562.6) scale(1 1.05)"><text x="0" y="0" font-size="19.3" text-anchor="middle">0</text></g>
<g transform="translate(228.77 562.6) scale(1 1.05)"><path transform="translate(-5.37 0.00) scale(19.300 -19.300)" d="M0.372,0L0.282,0L0.282,0.560Q0.249,0.528 0.196,0.497Q0.143,0.466 0.101,0.450L0.101,0.535Q0.177,0.571 0.234,0.622Q0.291,0.673 0.315,0.716L0.372,0.716Z"/></g>
<g transform="translate(344.24 562.6) scale(1 1.05)"><text x="0" y="0" font-size="19.3" text-anchor="middle">2</text></g>
<g transform="translate(459.71 562.6) scale(1 1.05)"><text x="0" y="0" font-size="19.3" text-anchor="middle">3</text></g>
<g transform="translate(575.18 562.6) scale(1 1.05)"><text x="0" y="0" font-size="19.3" text-anchor="middle">4</text></g>
<g transform="translate(690.65 562.6) scale(1 1.05)"><text x="0" y="0" font-size="19.3" text-anchor="middle">5</text></g>
<g transform="translate(806.12 562.6) scale(1 1.05)"><text x="0" y="0" font-size="19.3" text-anchor="middle">6</text></g>
<g transform="translate(96.3 25.2) scale(1 1.05)"><path transform="translate(-10.73 0.00) scale(19.300 -19.300)" d="M0.372,0L0.282,0L0.282,0.560Q0.249,0.528 0.196,0.497Q0.143,0.466 0.101,0.450L0.101,0.535Q0.177,0.571 0.234,0.622Q0.291,0.673 0.315,0.716L0.372,0.716Z"/></g>
<g transform="translate(64.14 110.70) scale(1 1.05)"><path transform="translate(0.00 0.00) scale(19.300 -19.300)" d="M0.372,0L0.282,0L0.282,0.560Q0.249,0.528 0.196,0.497Q0.143,0.466 0.101,0.450L0.101,0.535Q0.177,0.571 0.234,0.622Q0.291,0.673 0.315,0.716L0.372,0.716Z"/></g>
<g transform="translate(80.44 110.70) scale(0.88 1.05)"><text x="0" y="0" font-size="19.3" text-anchor="middle">0</text></g>
<text x="86.0" y="100.0" font-size="11.6">-<tspan dx="0.3">1</tspan></text>
<g transform="translate(64.14 196.00) scale(1 1.05)"><path transform="translate(0.00 0.00) scale(19.300 -19.300)" d="M0.372,0L0.282,0L0.282,0.560Q0.249,0.528 0.196,0.497Q0.143,0.466 0.101,0.450L0.101,0.535Q0.177,0.571 0.234,0.622Q0.291,0.673 0.315,0.716L0.372,0.716Z"/></g>
<g transform="translate(80.44 196.00) scale(0.88 1.05)"><text x="0" y="0" font-size="19.3" text-anchor="middle">0</text></g>
<text x="86.0" y="185.3" font-size="11.6">-<tspan dx="0.3">2</tspan></text>
<g transform="translate(64.14 281.30) scale(1 1.05)"><path transform="translate(0.00 0.00) scale(19.300 -19.300)" d="M0.372,0L0.282,0L0.282,0.560Q0.249,0.528 0.196,0.497Q0.143,0.466 0.101,0.450L0.101,0.535Q0.177,0.571 0.234,0.622Q0.291,0.673 0.315,0.716L0.372,0.716Z"/></g>
<g transform="translate(80.44 281.30) scale(0.88 1.05)"><text x="0" y="0" font-size="19.3" text-anchor="middle">0</text></g>
<text x="86.0" y="270.6" font-size="11.6">-<tspan dx="0.3">3</tspan></text>
<g transform="translate(64.14 366.60) scale(1 1.05)"><path transform="translate(0.00 0.00) scale(19.300 -19.300)" d="M0.372,0L0.282,0L0.282,0.560Q0.249,0.528 0.196,0.497Q0.143,0.466 0.101,0.450L0.101,0.535Q0.177,0.571 0.234,0.622Q0.291,0.673 0.315,0.716L0.372,0.716Z"/></g>
<g transform="translate(80.44 366.60) scale(0.88 1.05)"><text x="0" y="0" font-size="19.3" text-anchor="middle">0</text></g>
<text x="86.0" y="355.9" font-size="11.6">-<tspan dx="0.3">4</tspan></text>
<g transform="translate(64.14 451.90) scale(1 1.05)"><path transform="translate(0.00 0.00) scale(19.300 -19.300)" d="M0.372,0L0.282,0L0.282,0.560Q0.249,0.528 0.196,0.497Q0.143,0.466 0.101,0.450L0.101,0.535Q0.177,0.571 0.234,0.622Q0.291,0.673 0.315,0.716L0.372,0.716Z"/></g>
<g transform="translate(80.44 451.90) scale(0.88 1.05)"><text x="0" y="0" font-size="19.3" text-anchor="middle">0</text></g>
<text x="86.0" y="441.2" font-size="11.6">-<tspan dx="0.3">5</tspan></text>
<g transform="translate(64.14 537.20) scale(1 1.05)"><path transform="translate(0.00 0.00) scale(19.300 -19.300)" d="M0.372,0L0.282,0L0.282,0.560Q0.249,0.528 0.196,0.497Q0.143,0.466 0.101,0.450L0.101,0.535Q0.177,0.571 0.234,0.622Q0.291,0.673 0.315,0.716L0.372,0.716Z"/></g>
<g transform="translate(80.44 537.20) scale(0.88 1.05)"><text x="0" y="0" font-size="19.3" text-anchor="middle">0</text></g>
<text x="86.0" y="526.5" font-size="11.6">-<tspan dx="0.3">6</tspan></text>
<text x="415.8" y="601.9" font-size="24.5">2<tspan font-family="Liberation Serif">θ</tspan>, deg.</text>
<text transform="translate(24.7,276.5) rotate(-90)" font-size="24" text-anchor="middle">Reflectivity</text>
<rect x="594.5" y="18.3" width="177.8" height="58.1" fill="#fff" stroke="#777" stroke-width="1"/>
<circle cx="627.2" cy="32.9" r="2.7" fill="none" stroke="#5a5ad8" stroke-width="0.9"/>
<line x1="599.2" y1="63.3" x2="655.5" y2="63.3" stroke="#000" stroke-width="2.4"/>
<text x="661.2" y="41" font-size="24" letter-spacing="0.35">Measured</text>
<text x="661.2" y="70.9" font-size="24" letter-spacing="0.35">Simulated</text>
<g stroke="#000" stroke-width="2.8" fill="#000">
<line x1="338.2" y1="142.5" x2="493.0" y2="142.5"/>
<path stroke="none" d="M504.4,142.5L492.0,148.7L492.0,136.3Z"/>
<line x1="422.0" y1="248.8" x2="544.2" y2="226.0"/>
<path stroke="none" d="M555.4,223.9L544.3,232.3L542.1,220.1Z"/>
<line x1="539.1" y1="378.1" x2="612.3" y2="326.4"/>
<path stroke="none" d="M621.6,319.8L615.1,332.0L607.9,321.9Z"/>
</g>
<path transform="translate(532.60 155.10) scale(38.000 -38.000)" d="M0.372,0L0.282,0L0.282,0.560Q0.249,0.528 0.196,0.497Q0.143,0.466 0.101,0.450L0.101,0.535Q0.177,0.571 0.234,0.622Q0.291,0.673 0.315,0.716L0.372,0.716Z"/>
<text x="553.73" y="155.1" font-size="38" letter-spacing="-0.4">3 нм</text>
<text x="572.2" y="235.6" font-size="38" letter-spacing="-0.3">20 нм</text>
<text x="644.5" y="325.7" font-size="38" letter-spacing="-0.2">55 нм</text>
<rect x="125" y="431" width="213" height="91" fill="#c0c0c0" stroke="#000" stroke-width="2"/>
<rect x="124.3" y="385" width="214" height="65" fill="#00ff00"/>
<rect x="124.3" y="348" width="214" height="37" fill="#ffff00"/>
<rect x="124.3" y="294" width="214" height="54" fill="#ffc800"/>
<g transform="translate(213.60 331.70) scale(1.000 1.020)"><text x="0" y="0" font-size="28.5" letter-spacing="0.8">Au</text></g>
<g transform="translate(219.00 377.70) scale(1.000 0.980)"><text x="-2.4" y="0" font-size="28" letter-spacing="2.3">Ni</text></g>
<g transform="translate(220.30 419.70) scale(1.000 0.980)"><text x="-0.7" y="0" font-size="28" letter-spacing="2.4">Ti</text></g>
<text x="231" y="488.1" font-size="32" text-anchor="middle">Al<tspan font-size="21.5" dy="6.4">2</tspan><tspan dy="-6.4">O</tspan><tspan font-size="21.5" dy="6.4">3</tspan></text>
</svg></body></html>
